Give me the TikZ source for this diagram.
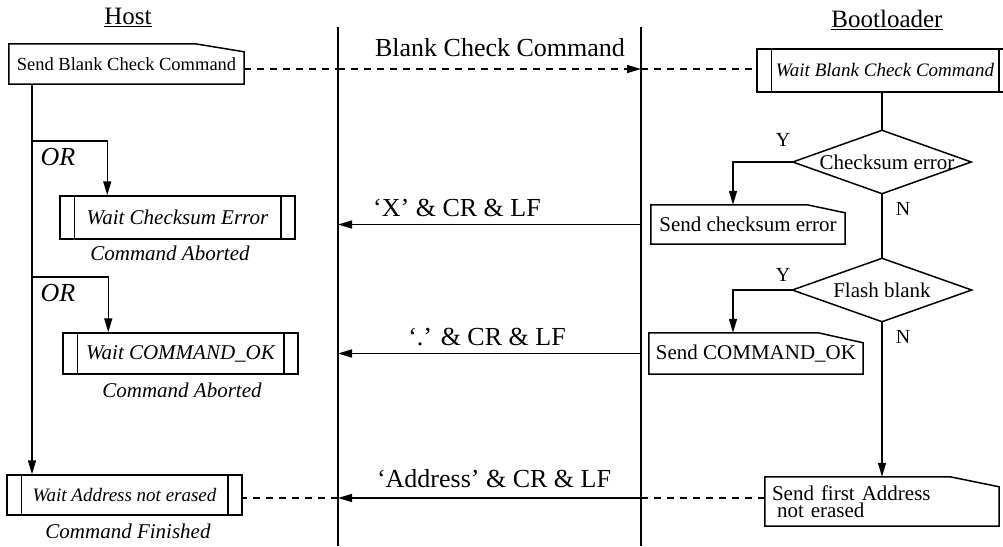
\documentclass[tikz,border=0pt]{standalone}
\usepackage{fontspec}
\setmainfont{Liberation Serif}
\usetikzlibrary{arrows.meta, positioning, calc}

\newcommand{\bigtxt}{\fontsize{26}{28}\selectfont}
\newcommand{\midtxt}{\fontsize{21}{23}\selectfont}
\newcommand{\midit}{\fontsize{21}{23}\selectfont\itshape}
\newcommand{\smallit}{\fontsize{19}{21}\selectfont\itshape}

% outline of a "send" box: corner cut at top right
\newcommand{\sendoutline}[3]{%
  \draw[plain] (#1.south west) -- (#1.north west) -- ([xshift=-#2pt]#1.north east)
    -- ([yshift=-#3pt]#1.north east) -- (#1.south east) -- cycle;}
% inner side bars of a "wait" box
\newcommand{\waitbars}[2]{%
  \draw[plain] ([xshift=#2pt]#1.north west) -- ([xshift=#2pt]#1.south west);
  \draw[plain] ([xshift=-#2pt]#1.north east) -- ([xshift=-#2pt]#1.south east);}

\begin{document}
\begin{tikzpicture}[
  x=1pt, y=-1pt,
  plain/.style={line width=1.5pt},
  waitbox/.style={
    rectangle,
    draw,
    line width=1.5pt,
    minimum width=235,
    minimum height=41,
    inner sep=0pt,
    font=\midit
  },
  sendbox/.style={
    rectangle,
    minimum height=40,
    inner sep=0pt,
    font=\midtxt
  },
  decision/.style={
    rectangle,
    minimum width=178,
    minimum height=63,
    inner sep=0pt,
    font=\midtxt
  },
  title/.style={font=\fontsize{25}{27}\selectfont},
  msglabel/.style={font=\bigtxt},
  note/.style={font=\midit},
  yn/.style={font=\fontsize{20}{22}\selectfont},
  arrow/.style={
    -{Triangle[length=14pt,width=8pt]},
    line width=1.5pt
  },
  dashline/.style={
    dash pattern=on 7pt off 6pt,
    line width=1.5pt
  }
]
\useasboundingbox (0,0) rectangle (1003,546);

% =========================================================
% Titles and lifelines
% =========================================================
\node[title] (host) at (128,17) {\underline{Host}};
\node[title] (boot) at (887,20) {\underline{Bootloader}};

\coordinate (hTop) at (338,27);
\coordinate (hBot) at (338,546);
\coordinate (bTop) at (641,27);
\coordinate (bBot) at (641,546);

\draw[plain] (hTop) -- (hBot);
\draw[plain] (bTop) -- (bBot);

% =========================================================
% Host side
% =========================================================
\node[sendbox, minimum width=235, font=\fontsize{18.5}{20}\selectfont] (sendcmd) at (126.5,64) {Send Blank Check Command};
\sendoutline{sendcmd}{49}{8}

\node[waitbox, minimum height=43] (waitcs) at (177.5,217.5) {Wait Checksum Error};
\waitbars{waitcs}{15}
\node[note] (abort1) at (170,253) {Command Aborted};

\node[waitbox] (waitok) at (180.5,353.5) {Wait COMMAND\_OK};
\waitbars{waitok}{15}
\node[note] (abort2) at (182,390) {Command Aborted};

\node[waitbox, minimum height=40, font=\smallit] (waitaddr) at (124.5,495) {Wait Address not erased};
\waitbars{waitaddr}{15}
\node[note] (finish) at (128,531) {Command Finished};

\coordinate (trunk) at (32,0);
\coordinate (or1) at (32,141);
\coordinate (or2) at (32,277);

\draw[arrow] (sendcmd.south -| trunk) -- (waitaddr.north -| trunk);
\draw[arrow] (or1) -| ([xshift=48pt]waitcs.north west);
\draw[arrow] (or2) -| ([xshift=46pt]waitok.north west);

\node[msglabel, font=\bigtxt\itshape, anchor=west] (ortxt1) at (37,157) {OR};
\node[msglabel, font=\bigtxt\itshape, anchor=west] (ortxt2) at (37,293) {OR};

% =========================================================
% Bootloader side
% =========================================================
\node[waitbox, minimum width=256, minimum height=43, font=\smallit] (waitblank) at (885,70.5) {Wait Blank Check Command};
\waitbars{waitblank}{15}

\node[decision] (cserr) at (882,162) {\hspace{10pt}Checksum error};
\draw[plain] (cserr.north) -- (cserr.east) -- (cserr.south) -- (cserr.west) -- cycle;

\node[decision, minimum width=179] (flash) at (882,290) {Flash blank};
\draw[plain] (flash.north) -- (flash.east) -- (flash.south) -- (flash.west) -- cycle;

\node[sendbox, minimum width=194, minimum height=39] (sendcs) at (748,224.5) {Send checksum error};
\sendoutline{sendcs}{38}{8}

\node[sendbox, minimum width=214, minimum height=41] (sendok) at (756,353.5) {Send COMMAND\_OK};
\sendoutline{sendok}{45}{10}

\node[sendbox, minimum width=234, minimum height=49, text width=220, align=left,
      font=\fontsize{21}{17}\selectfont] (sendaddr) at (882,501.5)
  {Send first Address\\ \hspace*{5pt}not erased};
\sendoutline{sendaddr}{49}{10}

\draw[plain] (cserr.north |- waitblank.south) -- (cserr.north);
\draw[plain] (cserr.south) -- (flash.north);
\draw[arrow] (cserr.west) -| ([xshift=-15pt]sendcs.north);
\draw[arrow] (flash.west) -| ([xshift=-23pt]sendok.north);
\draw[arrow] (flash.south) -- (sendaddr.north);

\node[yn] (y1) at (783,140) {Y};
\node[yn] (n1) at (903,209) {N};
\node[yn] (y2) at (783,275) {Y};
\node[yn] (n2) at (903,337) {N};

% =========================================================
% Messages between host and bootloader
% =========================================================
\coordinate (m1) at (0,69);
\coordinate (m4) at (0,498);

\draw[dashline] (sendcmd.east |- m1) -- (m1 -| hTop);
\draw[dashline, -{Triangle[length=14pt,width=8pt]}] (m1 -| hTop) -- (m1 -| bTop);
\draw[dashline] (m1 -| bTop) -- (waitblank.west |- m1);
\node[msglabel] (lbl1) at (500,48) {Blank Check Command};

\draw[arrow] (sendcs.west -| bTop) -- (sendcs.west -| hTop);
\node[msglabel] (lbl2) at (457,208) {‘X’ \& CR \& LF};

\draw[arrow] (sendok.west -| bTop) -- (sendok.west -| hTop);
\node[msglabel] (lbl3) at (487,337) {‘.’ \& CR \& LF};

\draw[dashline] (sendaddr.west |- m4) -- (m4 -| bTop);
\draw[arrow] (m4 -| bTop) -- (m4 -| hTop);
\draw[dashline] (m4 -| hTop) -- (waitaddr.east |- m4);
\node[msglabel] (lbl4) at (494,479) {‘Address’ \& CR \& LF};

\end{tikzpicture}
\end{document}
